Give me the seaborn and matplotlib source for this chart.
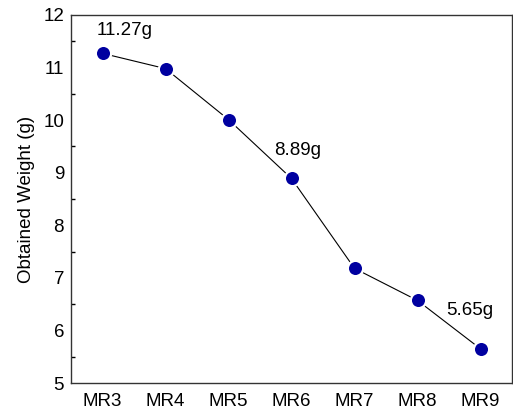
import matplotlib
matplotlib.use("Agg")
import matplotlib.pyplot as plt
import seaborn as sns
import pandas as pd
from matplotlib.ticker import MultipleLocator

categories = ["MR3", "MR4", "MR5", "MR6", "MR7", "MR8", "MR9"]
weights = [11.27, 10.98, 10.01, 8.89, 7.18, 6.57, 5.65]
annot_idx = [0, 3, 6]
annot_text = ["11.27g", "8.89g", "5.65g"]

sns.set_style("white")
plt.rcParams['font.family'] = ['Liberation Sans', 'DejaVu Sans']
plt.rcParams['text.color'] = 'black'
plt.rcParams['axes.labelcolor'] = 'black'

df = pd.DataFrame({"x": list(range(len(categories))), "w": weights})

fs = 13.5
fig = plt.figure(figsize=(5.13, 4.13), dpi=100)
ax = fig.add_axes([71/513, 1 - 383/413, (512 - 71)/513, (383 - 15)/413])

sns.lineplot(data=df, x="x", y="w", ax=ax, color="black", linewidth=0.8,
             marker="o", markersize=11, markerfacecolor="#0000A0",
             markeredgecolor="white", markeredgewidth=1.6)

ax.set_xlim(-0.5, len(categories) - 0.5)
ax.set_ylim(5, 12)
ax.set_xticks(range(len(categories)))
ax.set_xticklabels(categories)
ax.yaxis.set_major_locator(MultipleLocator(1))
ax.yaxis.set_minor_locator(MultipleLocator(0.5))
ax.tick_params(axis="both", which="both", direction="in", labelsize=fs,
               colors="black", width=1)
ax.tick_params(axis="both", which="major", length=5)
ax.tick_params(axis="y", which="minor", length=3, left=True)
ax.tick_params(axis="x", pad=7)
ax.tick_params(axis="y", pad=5)
for s in ax.spines.values():
    s.set_color("#333333")
    s.set_linewidth(1.0)
ax.set_xlabel("")
ax.set_ylabel("Obtained Weight (g)", fontsize=fs, labelpad=6, color="black")

offsets = [(0.35, 0.43), (0.09, 0.54), (-0.17, 0.72)]
for i, t, (dx, dy) in zip(annot_idx, annot_text, offsets):
    ax.text(i + dx, weights[i] + dy, t, ha="center", va="center",
            fontsize=fs, color="black")

fig.savefig("out.png", dpi=100)
